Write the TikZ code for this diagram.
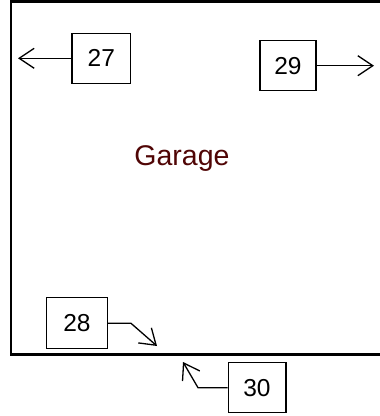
\documentclass[tikz,border=0pt]{standalone}
\usepackage{fontspec}
\setmainfont{Liberation Sans}
\usetikzlibrary{arrows.meta}
\definecolor{garagered}{RGB}{80,5,5}
\tikzset{
  numbox/.style={draw, line width=1.3pt, inner sep=0pt, font=\fontsize{24.5}{24.5}\selectfont},
  wall/.style={line width=2.8pt},
  pointer/.style={line width=1.3pt, -{Straight Barb[length=15pt,width=20pt,line width=1.3pt]}}
}
\begin{document}
\begin{tikzpicture}[x=1pt,y=-1pt]
\useasboundingbox (0,0) rectangle (380,416);
\clip (0,0) rectangle (380,416);
\draw[wall] (395,1.5) -- (11,1.5) -- (11,354.7) -- (395,354.7);
\node[font=\fontsize{28.5}{28.5}\selectfont, text=garagered] (garage) at (182,159) {Garage};
\node[numbox, minimum width=58.7pt, minimum height=50pt] (b27) at (101.3,58.3) {27};
\node[numbox, minimum width=56pt, minimum height=50pt] (b29) at (288,65.7) {29};
\node[numbox, minimum width=60.7pt, minimum height=51pt] (b28) at (77,323.3) {28};
\node[numbox, minimum width=57.7pt, minimum height=50pt] (b30) at (257,387.7) {30};
\coordinate (t27) at (18,58.3);
\coordinate (t29) at (374,65.7);
\coordinate (m28) at (131,323.3);
\coordinate (t28) at (157,346);
\coordinate (m30) at (198,387.7);
\coordinate (t30) at (183,362);
\draw[pointer] (b27.west) -- (t27);
\draw[pointer] (b29.east) -- (t29);
\draw[pointer] (b28.east) -- (m28) -- (t28);
\draw[pointer] (b30.west) -- (m30) -- (t30);
\end{tikzpicture}
\end{document}
